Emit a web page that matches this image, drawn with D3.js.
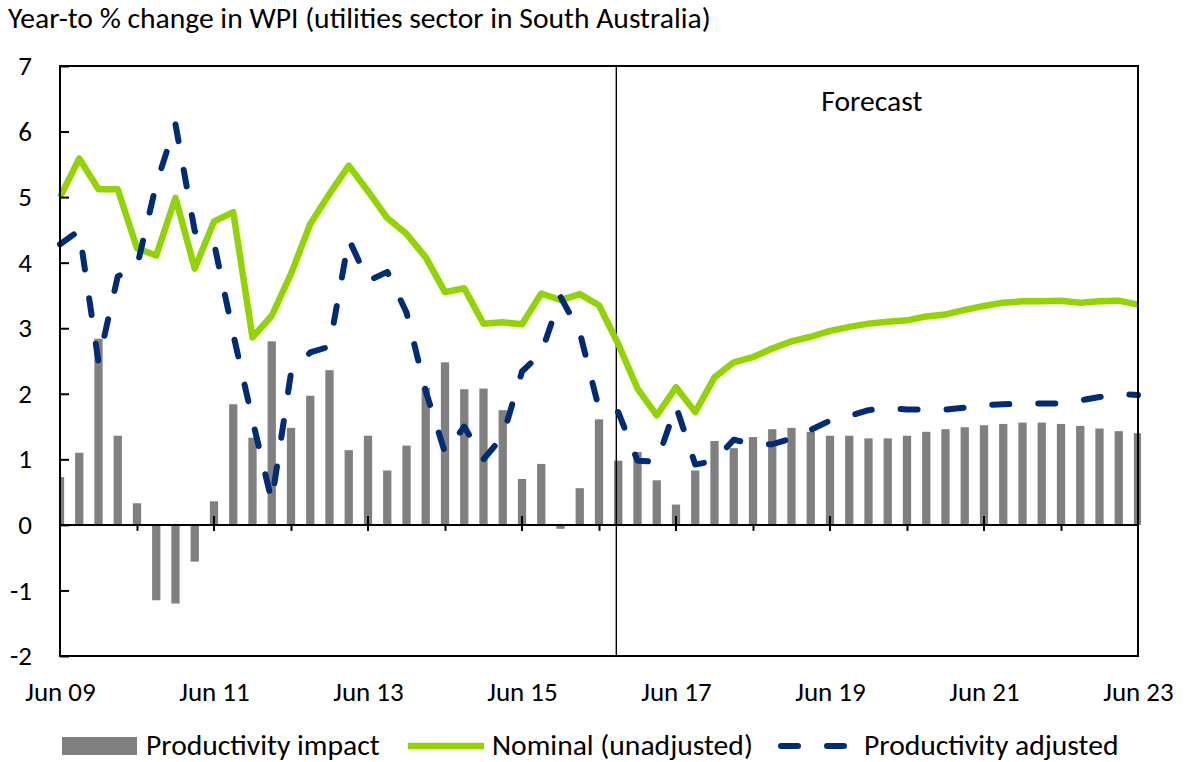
<!DOCTYPE html>
<html>
<head>
<meta charset="utf-8">
<script src="https://cdn.jsdelivr.net/npm/d3@7/dist/d3.min.js"></script>
<style>
  html, body { margin: 0; padding: 0; background: #fff; }
  svg { display: block; }
  text { font-family: Carlito, Lato, "Open Sans", sans-serif; fill: #000; }
</style>
</head>
<body>
<svg id="chart" width="1184" height="762"></svg>
<script>
// Quarterly categories, June 2009 to June 2023
const quarters = [
  "Jun 09","Sep 09","Dec 09","Mar 10","Jun 10","Sep 10","Dec 10","Mar 11",
  "Jun 11","Sep 11","Dec 11","Mar 12","Jun 12","Sep 12","Dec 12","Mar 13",
  "Jun 13","Sep 13","Dec 13","Mar 14","Jun 14","Sep 14","Dec 14","Mar 15",
  "Jun 15","Sep 15","Dec 15","Mar 16","Jun 16","Sep 16","Dec 16","Mar 17",
  "Jun 17","Sep 17","Dec 17","Mar 18","Jun 18","Sep 18","Dec 18","Mar 19",
  "Jun 19","Sep 19","Dec 19","Mar 20","Jun 20","Sep 20","Dec 20","Mar 21",
  "Jun 21","Sep 21","Dec 21","Mar 22","Jun 22","Sep 22","Dec 22","Mar 23",
  "Jun 23"
];

// Productivity impact (percentage points)
const productivityImpact = [
  0.73, 1.10, 2.84, 1.36, 0.33, -1.15, -1.20, -0.56, 0.36, 1.84,
  1.33, 2.80, 1.48, 1.97, 2.36, 1.14, 1.36, 0.83, 1.21, 2.09,
  2.48, 2.07, 2.08, 1.75, 0.70, 0.93, -0.06, 0.56, 1.61, 0.98,
  1.11, 0.68, 0.31, 0.83, 1.28, 1.17, 1.34, 1.46, 1.48, 1.42,
  1.36, 1.36, 1.32, 1.32, 1.36, 1.42, 1.46, 1.49, 1.52, 1.54,
  1.56, 1.56, 1.54, 1.51, 1.47, 1.43, 1.40
];

// Nominal WPI growth (unadjusted), year-to %
const nominal = [
  5.00, 5.59, 5.12, 5.12, 4.22, 4.11, 4.99, 3.91, 4.63, 4.77,
  2.86, 3.19, 3.83, 4.59, 5.05, 5.48, 5.09, 4.68, 4.44, 4.08,
  3.55, 3.61, 3.07, 3.09, 3.06, 3.53, 3.43, 3.52, 3.35, 2.76,
  2.08, 1.67, 2.10, 1.72, 2.25, 2.48, 2.56, 2.69, 2.80, 2.87,
  2.96, 3.02, 3.07, 3.10, 3.12, 3.18, 3.21, 3.28, 3.34, 3.39,
  3.41, 3.41, 3.42, 3.39, 3.41, 3.42, 3.36
];

// Productivity-adjusted WPI growth, year-to %
const adjusted = [
  4.28, 4.49, 2.48, 3.79, 3.94, 5.20, 6.11, 4.48, 4.30, 2.91,
  1.60, 0.36, 2.32, 2.63, 2.72, 4.36, 3.72, 3.86, 3.24, 2.04,
  1.10, 1.50, 1.00, 1.35, 2.34, 2.62, 3.48, 2.94, 1.77, 1.72,
  0.98, 0.96, 1.81, 0.92, 0.98, 1.30, 1.23, 1.23, 1.32, 1.45,
  1.59, 1.66, 1.75, 1.78, 1.76, 1.76, 1.76, 1.79, 1.83, 1.84,
  1.85, 1.85, 1.85, 1.90, 1.95, 2.00, 1.98
];

// Axis ticks
const yTicks = [-2, -1, 0, 1, 2, 3, 4, 5, 6, 7];
const labelledQuarters = ["Jun 09","Jun 11","Jun 13","Jun 15","Jun 17","Jun 19","Jun 21","Jun 23"];
const minorQuarters = ["Jun 10","Jun 12","Jun 14","Jun 16","Jun 18","Jun 20","Jun 22"];

// Forecast period begins part-way through 2016 (position in quarters from Jun 09)
const forecastStart = 28.9;
const forecastLabel = "Forecast";
const titleText = "Year-to % change in WPI (utilities sector in South Australia)";

const legendItems = ["Productivity impact", "Nominal (unadjusted)", "Productivity adjusted"];

const colors = { bar: "#808080", nominal: "#92D400", adjusted: "#002C77" };

// ---------------------------------------------------------------
const svg = d3.select("#chart");
const plot = { left: 60, right: 1138, top: 66, bottom: 656 };
const FS_TEXT = 29.6;   // title, legend, annotation
const FS_TICK = 27;     // axis tick labels

const x = d3.scalePoint().domain(quarters).range([plot.left, plot.right]);
const xi = d3.scaleLinear().domain([0, quarters.length - 1]).range([plot.left, plot.right]);
const y = d3.scaleLinear().domain([-2, 7]).range([plot.bottom, plot.top]);

svg.append("defs").append("clipPath").attr("id", "plotClip")
  .append("rect")
  .attr("x", plot.left).attr("y", plot.top)
  .attr("width", plot.right - plot.left + 3).attr("height", plot.bottom - plot.top);

// Title
svg.append("text")
  .attr("x", 8).attr("y", 28)
  .attr("font-size", FS_TEXT)
  .text(titleText);

// Bars
const barW = x.step() * 0.43;
svg.append("g").attr("clip-path", "url(#plotClip)")
  .selectAll("rect")
  .data(productivityImpact)
  .join("rect")
  .attr("x", (d, i) => x(quarters[i]) - barW / 2)
  .attr("y", d => y(Math.max(0, d)))
  .attr("width", barW)
  .attr("height", d => Math.abs(y(d) - y(0)))
  .attr("fill", colors.bar);

// Zero line
svg.append("line")
  .attr("x1", plot.left).attr("x2", plot.right)
  .attr("y1", y(0)).attr("y2", y(0))
  .attr("stroke", "#000").attr("stroke-width", 2);

// Minor ticks (below the zero line)
svg.append("g")
  .attr("transform", `translate(0,${y(0)})`)
  .call(d3.axisBottom(x).tickValues(minorQuarters).tickSizeInner(6).tickSizeOuter(0).tickFormat(""))
  .call(g => g.select(".domain").remove())
  .call(g => g.selectAll(".tick line").attr("stroke", "#000").attr("stroke-width", 2));

// Major ticks (crossing the zero line)
svg.append("g")
  .selectAll("line")
  .data(labelledQuarters)
  .join("line")
  .attr("x1", d => x(d)).attr("x2", d => x(d))
  .attr("y1", y(0) - 9).attr("y2", y(0) + 6)
  .attr("stroke", "#000").attr("stroke-width", 2);

// Forecast divider
svg.append("line")
  .attr("x1", xi(forecastStart)).attr("x2", xi(forecastStart))
  .attr("y1", plot.top).attr("y2", plot.bottom)
  .attr("stroke", "#000").attr("stroke-width", 1.4);

svg.append("text")
  .attr("x", xi(forecastStart) + 205).attr("y", 111)
  .attr("font-size", FS_TEXT)
  .text(forecastLabel);

// Lines
const lineGen = d3.line()
  .x((d, i) => x(quarters[i]))
  .y(d => y(d));

svg.append("path")
  .datum(nominal)
  .attr("d", lineGen)
  .attr("fill", "none")
  .attr("stroke", colors.nominal)
  .attr("stroke-width", 6.5)
  .attr("stroke-linejoin", "round");

svg.append("path")
  .datum(adjusted)
  .attr("d", lineGen)
  .attr("fill", "none")
  .attr("stroke", colors.adjusted)
  .attr("stroke-width", 6)
  .attr("stroke-linecap", "round")
  .attr("stroke-linejoin", "round")
  .attr("stroke-dasharray", "17,29");

// Plot frame
svg.append("rect")
  .attr("x", plot.left).attr("y", plot.top)
  .attr("width", plot.right - plot.left).attr("height", plot.bottom - plot.top)
  .attr("fill", "none").attr("stroke", "#000").attr("stroke-width", 2);

// Y axis (ticks pointing inward)
svg.append("g")
  .attr("transform", `translate(${plot.left},0)`)
  .call(d3.axisLeft(y).tickValues(yTicks).tickSizeInner(-9).tickSizeOuter(0).tickPadding(28).tickFormat(d => String(d)))
  .call(g => g.select(".domain").remove())
  .call(g => g.selectAll(".tick line").attr("stroke", "#000").attr("stroke-width", 2))
  .call(g => g.selectAll(".tick text").attr("font-size", FS_TICK).attr("font-family", null).attr("fill", "#000"));

// X axis labels
svg.append("g")
  .attr("transform", `translate(0,${plot.bottom})`)
  .call(d3.axisBottom(x).tickValues(labelledQuarters).tickSize(0).tickPadding(26))
  .call(g => g.select(".domain").remove())
  .call(g => g.selectAll(".tick text").attr("font-size", FS_TICK).attr("font-family", null).attr("fill", "#000"));

// Legend
const lg = svg.append("g");
const legY = 746;
lg.append("rect").attr("x", 62).attr("y", legY - 9).attr("width", 75).attr("height", 18).attr("fill", colors.bar);
lg.append("text").attr("x", 146).attr("y", legY + 9).attr("font-size", FS_TEXT).text(legendItems[0]);
lg.append("line").attr("x1", 408).attr("x2", 484).attr("y1", legY).attr("y2", legY)
  .attr("stroke", colors.nominal).attr("stroke-width", 6.5);
lg.append("text").attr("x", 492).attr("y", legY + 9).attr("font-size", FS_TEXT).text(legendItems[1]);
lg.append("line").attr("x1", 781).attr("x2", 846).attr("y1", legY).attr("y2", legY)
  .attr("stroke", colors.adjusted).attr("stroke-width", 6)
  .attr("stroke-linecap", "round").attr("stroke-dasharray", "17,29");
lg.append("text").attr("x", 864).attr("y", legY + 9).attr("font-size", FS_TEXT).text(legendItems[2]);
</script>
</body>
</html>
